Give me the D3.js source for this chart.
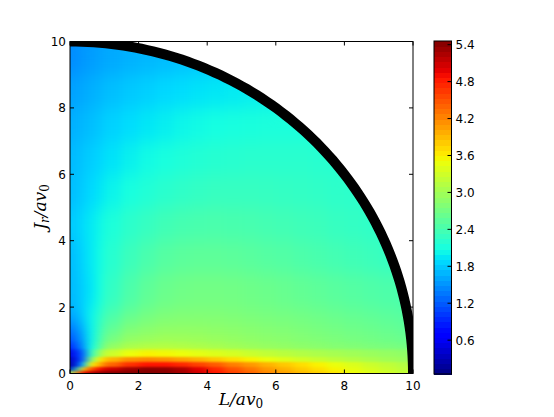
<!DOCTYPE html>
<html>
<head>
<meta charset="utf-8">
<script src="https://cdn.jsdelivr.net/npm/d3@7"></script>
<style>
  body { margin: 0; background: #fff; }
  text { font-family: "DejaVu Sans", sans-serif; }
</style>
</head>
<body>
<script>
// cell edges (data units)
const Ledges = [0, 0.15, 0.3, 0.5, 0.75, 1, 1.5, 2, 2.5, 3, 3.5, 4, 4.5, 5, 5.5, 6, 6.5, 7, 7.5, 8, 8.5, 9, 9.5, 10]
const Jedges = [0, 0.1, 0.2, 0.35, 0.5, 0.75, 1, 1.5, 2, 3, 4, 5, 6, 7, 8, 9, 10]

// values, rows from Jr=0 upward, columns from L=0 to the right
// (rows stop where the cells leave the disk)
const values = [
  [2.8, 4.2, 4.9, 5.2, 5.35, 5.42, 5.45, 5.45, 5.42, 5.3, 5.1, 4.85, 4.6, 4.4, 4.2, 4.05, 3.9, 3.78, 3.65, 3.52, 3.42, 3.32, 3.22],
  [0.3, 2.0, 3.8, 4.5, 4.9, 5.1, 5.3, 5.4, 5.38, 5.25, 5.0, 4.75, 4.5, 4.3, 4.1, 3.95, 3.8, 3.68, 3.56, 3.45, 3.35, 3.26, 3.18],
  [0.2, 0.9, 1.8, 3.6, 4.0, 4.4, 4.7, 4.85, 4.85, 4.75, 4.6, 4.45, 4.25, 4.1, 3.95, 3.82, 3.7, 3.58, 3.48, 3.38, 3.28, 3.2, 3.12],
  [0.3, 0.9, 1.3, 2.8, 3.6, 3.95, 4.15, 4.2, 4.15, 4.05, 3.95, 3.82, 3.7, 3.58, 3.48, 3.4, 3.32, 3.25, 3.18, 3.12, 3.06, 3.0, 2.96],
  [0.5, 1.0, 1.25, 2.3, 3.0, 3.3, 3.5, 3.58, 3.55, 3.5, 3.45, 3.4, 3.35, 3.28, 3.22, 3.17, 3.12, 3.08, 3.04, 3.0, 2.96, 2.93, 2.9],
  [0.8, 1.25, 1.45, 2.1, 2.6, 3.0, 3.15, 3.2, 3.2, 3.18, 3.14, 3.1, 3.05, 3.0, 2.97, 2.94, 2.91, 2.88, 2.85, 2.83, 2.8, 2.78, 2.75],
  [1.25, 1.5, 1.65, 2.0, 2.35, 2.6, 2.8, 2.85, 2.9, 2.9, 2.9, 2.88, 2.86, 2.84, 2.82, 2.8, 2.77, 2.74, 2.71, 2.68, 2.65, 2.62, 2.58],
  [1.6, 1.72, 1.85, 2.05, 2.25, 2.45, 2.62, 2.72, 2.78, 2.8, 2.8, 2.8, 2.78, 2.76, 2.74, 2.72, 2.7, 2.67, 2.64, 2.61, 2.58, 2.55, 2.52],
  [1.7, 1.76, 1.84, 1.95, 2.1, 2.28, 2.45, 2.57, 2.64, 2.68, 2.7, 2.7, 2.69, 2.67, 2.65, 2.62, 2.59, 2.56, 2.53, 2.5, 2.47, 2.45, 2.42],
  [1.72, 1.78, 1.87, 1.97, 2.07, 2.2, 2.33, 2.43, 2.5, 2.54, 2.56, 2.56, 2.55, 2.53, 2.5, 2.48, 2.45, 2.42, 2.39, 2.36, 2.33, 2.3, 2.28],
  [1.78, 1.84, 1.9, 1.97, 2.04, 2.13, 2.23, 2.3, 2.36, 2.4, 2.42, 2.43, 2.42, 2.41, 2.39, 2.37, 2.35, 2.33, 2.3, 2.28, 2.26, 2.24],
  [1.72, 1.77, 1.82, 1.88, 1.94, 2.02, 2.1, 2.16, 2.21, 2.25, 2.28, 2.3, 2.3, 2.3, 2.29, 2.28, 2.27, 2.26, 2.24, 2.23, 2.22],
  [1.7, 1.74, 1.78, 1.82, 1.86, 1.93, 2.0, 2.06, 2.1, 2.14, 2.17, 2.19, 2.2, 2.21, 2.21, 2.21, 2.21, 2.2, 2.2],
  [1.65, 1.68, 1.71, 1.74, 1.78, 1.84, 1.9, 1.95, 1.99, 2.03, 2.06, 2.08, 2.1, 2.11, 2.12, 2.12, 2.12, 2.12],
  [1.57, 1.6, 1.63, 1.66, 1.69, 1.74, 1.79, 1.83, 1.87, 1.9, 1.93, 1.95, 1.97, 1.99, 2.0],
  [1.47, 1.5, 1.53, 1.56, 1.59, 1.63, 1.67, 1.7, 1.73, 1.76, 1.78, 1.8]
]

const axisTicks = [0, 2, 4, 6, 8, 10]
const cbTicks = [0.6, 1.2, 1.8, 2.4, 3.0, 3.6, 4.2, 4.8, 5.4]
const colorDomain = [0.05, 5.46]
const radius = 10

// jet colormap
const jr = d3.scaleLinear().domain([0, 0.35, 0.66, 0.89, 1]).range([0, 0, 1, 1, 0.5]).clamp(true)
const jg = d3.scaleLinear().domain([0, 0.125, 0.375, 0.64, 0.91, 1]).range([0, 0, 1, 1, 0, 0]).clamp(true)
const jb = d3.scaleLinear().domain([0, 0.11, 0.34, 0.65, 1]).range([0.5, 1, 1, 0, 0]).clamp(true)
const norm = d3.scaleLinear().domain(colorDomain).range([0, 1]).clamp(true)
const jet = v => {
  const t = norm(v)
  return d3.rgb(jr(t) * 255, jg(t) * 255, jb(t) * 255).formatHex()
}

const W = 554, H = 417
const plot = {left: 70, right: 413, top: 41.5, bottom: 373.5}
const cb = {left: 434, right: 451.5, top: 41, bottom: 374}

const x = d3.scaleLinear().domain([0, 10]).range([plot.left, plot.right])
const y = d3.scaleLinear().domain([0, 10]).range([plot.bottom, plot.top])

const svg = d3.select("body").append("svg").attr("width", W).attr("height", H)
const defs = svg.append("defs")

defs.append("clipPath").attr("id", "disk")
  .append("ellipse")
  .attr("cx", x(0)).attr("cy", y(0))
  .attr("rx", x(radius) - x(0)).attr("ry", y(0) - y(radius))
defs.append("clipPath").attr("id", "frame")
  .append("rect")
  .attr("x", plot.left).attr("y", plot.top)
  .attr("width", plot.right - plot.left).attr("height", plot.bottom - plot.top)

// smoothing: blur, then push alpha back to 1 so edges keep their own colour
function smoothFilter(id, sd) {
  const f = defs.append("filter").attr("id", id)
    .attr("filterUnits", "userSpaceOnUse")
    .attr("x", plot.left - 40).attr("y", plot.top - 40)
    .attr("width", plot.right - plot.left + 80).attr("height", plot.bottom - plot.top + 80)
    .attr("color-interpolation-filters", "sRGB")
  f.append("feGaussianBlur").attr("stdDeviation", sd)
  f.append("feComponentTransfer").append("feFuncA")
    .attr("type", "linear").attr("slope", 100).attr("intercept", 0)
}
smoothFilter("smoothTop", "5 9")
smoothFilter("smoothLow", "4 1.2")

// the fine bottom band fades out between Jr 0.6 and 1
const grad = defs.append("linearGradient").attr("id", "lowFade")
  .attr("gradientUnits", "userSpaceOnUse")
  .attr("x1", 0).attr("x2", 0).attr("y1", y(0.6)).attr("y2", y(1))
grad.append("stop").attr("offset", 0).attr("stop-color", "#fff")
grad.append("stop").attr("offset", 1).attr("stop-color", "#000")
defs.append("mask").attr("id", "lowMask")
  .attr("maskUnits", "userSpaceOnUse")
  .attr("x", 0).attr("y", 0).attr("width", W).attr("height", H)
  .append("rect")
  .attr("x", 0).attr("y", 0).attr("width", W).attr("height", H)
  .attr("fill", "url(#lowFade)")

// flatten the grid into cells
const cells = []
values.forEach((row, i) => row.forEach((v, j) => {
  if (v !== null) cells.push({L0: Ledges[j], L1: Ledges[j + 1], J0: Jedges[i], J1: Jedges[i + 1], v})
}))

function drawCells(g, data) {
  g.selectAll("rect")
    .data(data)
    .enter().append("rect")
    .attr("x", d => x(d.L0))
    .attr("y", d => y(d.J1))
    .attr("width", d => x(d.L1) - x(d.L0) + 0.5)
    .attr("height", d => y(d.J0) - y(d.J1) + 0.5)
    .attr("fill", d => jet(d.v))
    .attr("shape-rendering", "crispEdges")
}

const frameG = svg.append("g").attr("clip-path", "url(#frame)")
const diskG = frameG.append("g").attr("clip-path", "url(#disk)")
drawCells(diskG.append("g").attr("filter", "url(#smoothTop)"), cells.filter(d => d.J0 >= 0.75))
drawCells(diskG.append("g").attr("mask", "url(#lowMask)")
  .append("g").attr("filter", "url(#smoothLow)"), cells.filter(d => d.J1 <= 1))

// thick black rim
const arc = d3.line().x(d => x(radius * Math.cos(d))).y(d => y(radius * Math.sin(d)))
frameG.append("path")
  .datum(d3.range(0, 91).map(a => a * Math.PI / 180))
  .attr("d", arc)
  .attr("fill", "none")
  .attr("stroke", "#000")
  .attr("stroke-width", 10)

// axes: ticks inside on all four sides
const tickLen = 4
const axG = svg.append("g")
axisTicks.forEach(t => {
  axG.append("line").attr("x1", x(t)).attr("x2", x(t)).attr("y1", plot.bottom).attr("y2", plot.bottom - tickLen)
  axG.append("line").attr("x1", x(t)).attr("x2", x(t)).attr("y1", plot.top).attr("y2", plot.top + tickLen)
  axG.append("line").attr("y1", y(t)).attr("y2", y(t)).attr("x1", plot.left).attr("x2", plot.left + tickLen)
  axG.append("line").attr("y1", y(t)).attr("y2", y(t)).attr("x1", plot.right).attr("x2", plot.right - tickLen)
})
axG.selectAll("line").attr("stroke", "#000").attr("stroke-width", 1)

axG.append("rect")
  .attr("x", plot.left).attr("y", plot.top)
  .attr("width", plot.right - plot.left).attr("height", plot.bottom - plot.top)
  .attr("fill", "none").attr("stroke", "#000").attr("stroke-width", 1)

svg.append("g").selectAll("text")
  .data(axisTicks)
  .enter().append("text")
  .attr("x", d => x(d)).attr("y", plot.bottom + 16)
  .attr("text-anchor", "middle").attr("font-size", 12)
  .text(d => d)

svg.append("g").selectAll("text")
  .data(axisTicks)
  .enter().append("text")
  .attr("x", plot.left - 4).attr("y", d => y(d) + 4.5)
  .attr("text-anchor", "end").attr("font-size", 12)
  .text(d => d)

// axis labels
const xl = svg.append("text")
  .attr("x", 241).attr("y", 405)
  .attr("text-anchor", "middle")
  .style("font-family", "'DejaVu Serif', serif").style("font-style", "italic")
  .attr("font-size", 17)
xl.append("tspan").text("L/av")
xl.append("tspan").attr("font-size", 12).attr("dy", 3).style("font-style", "normal").text("0")

const yl = svg.append("text")
  .attr("transform", "translate(46,207) rotate(-90)")
  .attr("text-anchor", "middle")
  .style("font-family", "'DejaVu Serif', serif").style("font-style", "italic")
  .attr("font-size", 17)
yl.append("tspan").text("J")
yl.append("tspan").attr("font-size", 12).attr("dy", 3).text("r")
yl.append("tspan").attr("dy", -3).text("/av")
yl.append("tspan").attr("font-size", 12).attr("dy", 3).style("font-style", "normal").text("0")

// colorbar
const cy = d3.scaleLinear().domain(colorDomain).range([cb.bottom, cb.top])
const nSteps = 64
const dv = (colorDomain[1] - colorDomain[0]) / nSteps
const stepVals = d3.range(nSteps).map(i => colorDomain[0] + dv * i)
svg.append("g").selectAll("rect")
  .data(stepVals)
  .enter().append("rect")
  .attr("x", cb.left).attr("width", cb.right - cb.left)
  .attr("y", d => cy(d + dv))
  .attr("height", d => cy(d) - cy(d + dv) + 0.5)
  .attr("fill", d => jet(d + dv / 2))
  .attr("shape-rendering", "crispEdges")

svg.append("rect")
  .attr("x", cb.left).attr("y", cb.top)
  .attr("width", cb.right - cb.left).attr("height", cb.bottom - cb.top)
  .attr("fill", "none").attr("stroke", "#000").attr("stroke-width", 1)

const cbG = svg.append("g")
cbTicks.forEach(t => {
  cbG.append("line")
    .attr("x1", cb.right).attr("x2", cb.right - tickLen)
    .attr("y1", cy(t)).attr("y2", cy(t))
    .attr("stroke", "#000")
  cbG.append("text")
    .attr("x", cb.right + 4).attr("y", cy(t) + 4.5)
    .attr("font-size", 12)
    .text(d3.format(".1f")(t))
})
</script>
</body>
</html>
